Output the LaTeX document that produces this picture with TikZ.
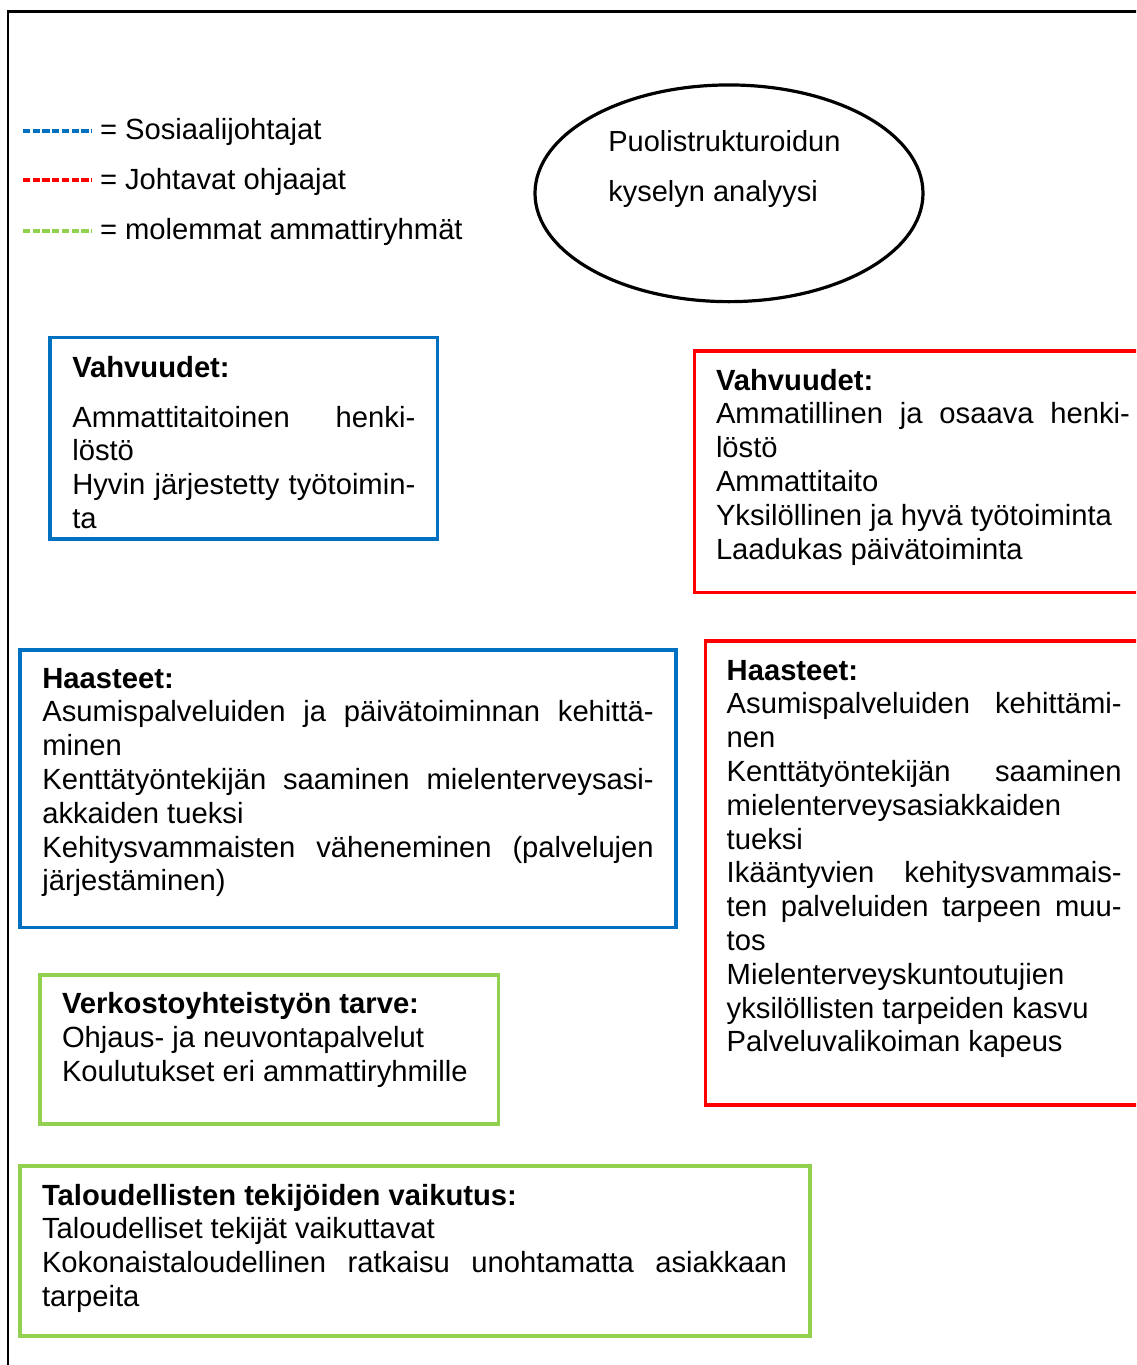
\documentclass[tikz,border=0pt]{standalone}
\usepackage{fontspec}
\setmainfont{Liberation Sans}
\usetikzlibrary{shapes.geometric}
\definecolor{cblue}{HTML}{0070C0}
\definecolor{cred}{HTML}{FF0000}
\definecolor{cgreen}{HTML}{92D050}
\newcommand\fullline[1]{\makebox[\linewidth][s]{#1}}
\begin{document}
\begin{tikzpicture}[x=1pt,y=-1pt,
  framebox/.style={draw, line width=3.2pt, rectangle, inner sep=0pt, outer sep=0pt, anchor=north west},
  bodytext/.style={anchor=base west, inner sep=0pt, outer sep=0pt, font=\fontsize{29.2}{33.8}\selectfont},
  legline/.style={line width=3.6pt, dash pattern=on 7.3pt off 2.4pt},
]
\clip (0,0) rectangle (1136,1365);
\fill[white] (0,0) rectangle (1136,1365);
% outer frame (only top and left visible)
\draw[line width=2.8pt] (8,1400) -- (8,11.3) -- (1200,11.3);

% legend
\draw[legline, cblue] (23,131) -- (91,131);
\draw[legline, cred] (23,180) -- (91,180);
\draw[legline, cgreen] (23,230.7) -- (91,230.7);
\node[bodytext] (leg1) at (100,139) {= Sosiaalijohtajat};
\node[bodytext] (leg2) at (100,189) {= Johtavat ohjaajat};
\node[bodytext] (leg3) at (100,239) {= molemmat ammattiryhmät};

% ellipse
\node[draw, ellipse, line width=3.2pt, minimum width=388pt, minimum height=216.7pt, inner sep=0pt, outer sep=0pt] (ell) at (729,193.3) {};
\node[bodytext] (elltext) at (608.3,151.7) {\parbox[t]{300pt}{\fontsize{29}{50}\selectfont Puolistrukturoidun\\ kyselyn analyysi}};

% blue strengths
\node[framebox, draw=cblue, minimum width=387.7pt, minimum height=201.7pt] (bvbox) at (50,337.3) {};
\node[bodytext] (bvtext) at (72.3,377) {\parbox[t]{343pt}{%
\textbf{Vahvuudet:}\\[16.2pt]
\fullline{Ammattitaitoinen henki-}\\
löstö\\
\fullline{Hyvin järjestetty työtoimin-}\\
ta}};

% red strengths
\node[framebox, draw=cred, minimum width=500pt, minimum height=241.7pt] (rvbox) at (694.3,351) {};
\node[bodytext] (rvtext) at (716,390) {\parbox[t]{414pt}{%
\textbf{Vahvuudet:}\\
\fullline{Ammatillinen ja osaava henki-}\\
löstö\\
Ammattitaito\\
Yksilöllinen ja hyvä työtoiminta\\
Laadukas päivätoiminta}};

% blue challenges
\node[framebox, draw=cblue, minimum width=656pt, minimum height=277.5pt] (bhbox) at (20,650) {};
\node[bodytext] (bhtext) at (42.3,688) {\parbox[t]{611.5pt}{%
\textbf{Haasteet:}\\
\fullline{Asumispalveluiden ja päivätoiminnan kehittä-}\\
minen\\
\fullline{Kenttätyöntekijän saaminen mielenterveysasi-}\\
akkaiden tueksi\\
\fullline{Kehitysvammaisten väheneminen (palvelujen}\\
järjestäminen)}};

% red challenges
\node[framebox, draw=cred, minimum width=500pt, minimum height=464pt] (rhbox) at (705.7,641) {};
\node[bodytext] (rhtext) at (726.7,680) {\parbox[t]{395pt}{%
\textbf{Haasteet:}\\
\fullline{Asumispalveluiden kehittämi-}\\
nen\\
\fullline{Kenttätyöntekijän saaminen}\\
mielenterveysasiakkaiden\\
tueksi\\
\fullline{Ikääntyvien kehitysvammais-}\\
\fullline{ten palveluiden tarpeen muu-}\\
tos\\
Mielenterveyskuntoutujien\\
yksilöllisten tarpeiden kasvu\\
Palveluvalikoiman kapeus}};

% green network
\node[framebox, draw=cgreen, minimum width=458.3pt, minimum height=149pt] (vbox) at (40,975) {};
\node[bodytext] (vtext) at (62,1013.5) {\parbox[t]{420pt}{%
\textbf{Verkostoyhteistyön tarve:}\\
Ohjaus- ja neuvontapalvelut\\
Koulutukset eri ammattiryhmille}};

% green economy
\node[framebox, draw=cgreen, minimum width=790pt, minimum height=170pt] (tbox) at (20,1166) {};
\node[bodytext] (ttext) at (42,1205) {\parbox[t]{745pt}{%
\textbf{Taloudellisten tekijöiden vaikutus:}\\
Taloudelliset tekijät vaikuttavat\\
\fullline{Kokonaistaloudellinen ratkaisu unohtamatta asiakkaan}\\
tarpeita}};
\end{tikzpicture}
\end{document}
